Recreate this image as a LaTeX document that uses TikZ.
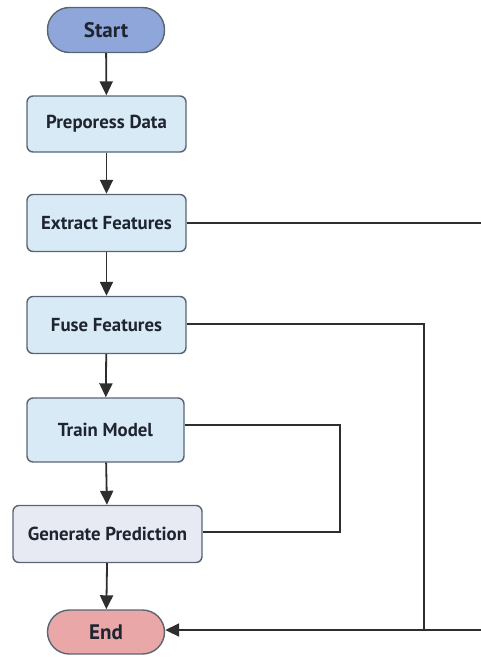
\documentclass[tikz,border=0pt]{standalone}
\usepackage{fontspec}
\setmainfont{PT Sans}
\usetikzlibrary{arrows.meta}
\definecolor{boxfill}{HTML}{D8EAF5}
\definecolor{boxline}{HTML}{5A6573}
\definecolor{startfill}{HTML}{8EA6D9}
\definecolor{genfill}{HTML}{E7EAF2}
\definecolor{endfill}{HTML}{E9A7A7}
\definecolor{linec}{HTML}{2E2E2E}
\definecolor{textc}{HTML}{1E2430}
\tikzset{
  procbox/.style={draw=boxline, line width=1.4pt, fill=boxfill, rounded corners=6pt,
    minimum height=56pt, inner sep=0pt, font=\fontsize{18.8}{22}\selectfont\bfseries, text=textc},
  pill/.style={draw=boxline, line width=1.4pt, rounded corners=22pt,
    minimum width=117pt, minimum height=45pt, inner sep=0pt, font=\fontsize{21}{24}\selectfont\bfseries, text=textc},
  conn/.style={draw=linec, line width=1.8pt},
  arr/.style={conn, -{Triangle[length=14pt,width=13pt]}}
}
\begin{document}
\begin{tikzpicture}[x=1pt,y=-1pt]
\useasboundingbox (0,0) rectangle (481,657);
\node[pill, fill=startfill] (start) at (106,30) {Start};
\node[procbox, minimum width=159pt] (prep) at (106.5,124) {Preporess Data};
\node[procbox, minimum width=159pt, minimum height=57pt] (extract) at (106.5,223) {Extract Features};
\node[procbox, minimum width=159pt, minimum height=57pt] (fuse) at (106.5,325) {Fuse Features};
\node[procbox, minimum width=157pt, minimum height=64pt] (train) at (105.5,430) {Train Model};
\node[procbox, fill=genfill, minimum width=189pt, minimum height=57pt] (gen) at (107.5,534) {Generate Prediction};
\node[pill, fill=endfill, minimum height=44pt] (end) at (106,632) {End};
\coordinate (exR) at (481,223);
\coordinate (enR) at (481,630);
\draw[arr] (start) -- (prep);
\draw[arr] (prep) -- (extract);
\draw[arr] (extract) -- (fuse);
\draw[arr] (fuse) -- (train);
\draw[arr] (train) -- (gen);
\draw[arr] (gen) -- (end);
\draw[conn] (extract.east) -- (exR);
\draw[conn] (fuse.east |- 0,324) -| (424,630);
\draw[conn] (train.east |- 0,425) -| (340,532) -- (gen.east |- 0,532);
\draw[arr] (enR) -- (end.east |- 0,630);
\end{tikzpicture}
\end{document}
